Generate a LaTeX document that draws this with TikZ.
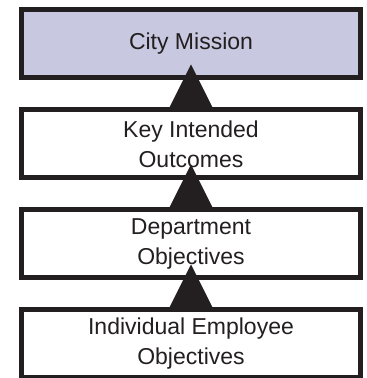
\documentclass[tikz,border=0pt]{standalone}
\usepackage{fontspec}
\usepackage{xcolor}
\usetikzlibrary{arrows.meta}

\newfontfamily\boxfont{Liberation Sans}
\definecolor{ink}{HTML}{231F20}
\definecolor{lav}{HTML}{C8C8E0}

\begin{document}
\begin{tikzpicture}[x=1pt,y=1pt,
  box/.style={draw=ink, line width=5pt, fill=white, minimum width=339pt,
    minimum height=68pt, align=center, text=ink,
    font=\fontsize{23}{30}\selectfont\boxfont}]
\useasboundingbox (0,0) rectangle (367,378);
\node[box, fill=lav] (M) at (191,334) {City Mission};
  \node[box]         (K) at (191,234) {Key Intended\\Outcomes};
  \node[box]         (D) at (191,134) {Department\\Objectives};
  \node[box]         (I) at (191,34)  {Individual Employee\\Objectives};

  \path[-{Triangle[width=43pt,length=43pt]}, ink, line width=1pt, shorten >=-16pt]
        (K.north) edge node {} (M.south)
        (D.north) edge node {} (K.south)
        (I.north) edge node {} (D.south);
\end{tikzpicture}
\end{document}
